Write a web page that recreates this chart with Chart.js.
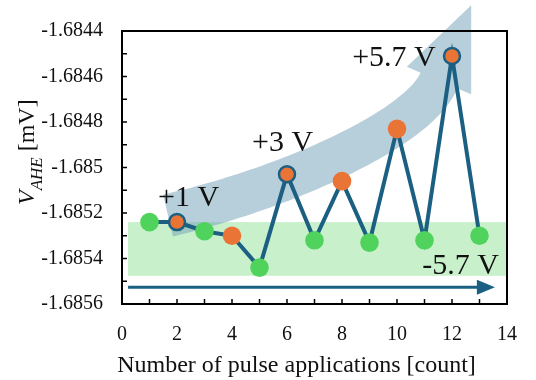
<!DOCTYPE html>
<html><head><meta charset="utf-8">
<script src="https://cdn.jsdelivr.net/npm/chart.js@4/dist/chart.umd.min.js"></script>
<style>html,body{margin:0;padding:0;background:#fff;}</style>
</head><body>
<canvas id="c" width="536" height="380"></canvas>
<script>
// ---- data ----
const pulseCounts = [1, 2, 3, 4, 5, 6, 7, 8, 9, 10, 11, 12, 13];
const vAHE = [-1.68524, -1.68524, -1.68528, -1.68530, -1.68544, -1.68503, -1.68532,
              -1.68506, -1.68533, -1.68483, -1.68532, -1.68451, -1.68530];
const positivePulse = [false, true, false, true, false, true, false, true, false, true, false, true, false];
const labelledPulses = [2, 6, 12];
const pulseLabels = ['+1 V', '+3 V', '+5.7 V', '-5.7 V'];
const pulseLabelX = [2.42, 5.84, 9.89, 12.31];
const pulseLabelY = [-1.685168, -1.684928, -1.684556, -1.685467];
const xTitle = 'Number of pulse applications [count]';
const yMin = -1.6856, yMax = -1.6844, yStep = 0.0001;
const xMin = 0, xMax = 14, xStep = 1;
// band (negative-pulse level) and arrows, in data units
const bandX = [0.22, 14];
const bandY = [-1.685476, -1.68524];
const trendCurveX = [1.673, 5.927, 10.764, 11.527];
const trendCurveY = [-1.685211, -1.685091, -1.684834, -1.684618];
const negArrowX = [0.22, 13.56];
const negArrowY = -1.685526;

const BLUE = '#1b5f82', ORANGE = '#ea7436', GREEN = '#4fd35d';
const SERIF = '"Liberation Serif", "Times New Roman", serif';

const deco = {
  id: 'deco',
  beforeDatasetsDraw(chart) {
    const {ctx, chartArea: a, scales: {x, y}} = chart;
    const X = v => x.getPixelForValue(v), Y = v => y.getPixelForValue(v);
    ctx.save();
    // green band
    ctx.fillStyle = '#c8f0cb';
    ctx.fillRect(X(bandX[0]), Y(bandY[1]), X(bandX[1]) - X(bandX[0]), Y(bandY[0]) - Y(bandY[1]));
    // curved trend arrow
    const P = trendCurveX.map((v, i) => [X(v), Y(trendCurveY[i])]);
    const N = 60, up = [], lo = [];
    let endDir = null;
    for (let i = 0; i <= N; i++) {
      const t = i / N, s = 1 - t;
      const px = s*s*s*P[0][0] + 3*s*s*t*P[1][0] + 3*s*t*t*P[2][0] + t*t*t*P[3][0];
      const py = s*s*s*P[0][1] + 3*s*s*t*P[1][1] + 3*s*t*t*P[2][1] + t*t*t*P[3][1];
      let dx = 3*s*s*(P[1][0]-P[0][0]) + 6*s*t*(P[2][0]-P[1][0]) + 3*t*t*(P[3][0]-P[2][0]);
      let dy = 3*s*s*(P[1][1]-P[0][1]) + 6*s*t*(P[2][1]-P[1][1]) + 3*t*t*(P[3][1]-P[2][1]);
      const L = Math.hypot(dx, dy); dx /= L; dy /= L;
      const w = 21.5 - 1.5 * t;
      up.push([px + w*dy, py - w*dx]);
      lo.push([px - w*dy, py + w*dx]);
      if (i === N) endDir = [dx, dy];
    }
    const E = P[3], hw = 35, hl = 82;
    const nx = endDir[1], ny = -endDir[0];
    ctx.beginPath();
    ctx.moveTo(up[0][0], up[0][1]);
    up.forEach(p => ctx.lineTo(p[0], p[1]));
    ctx.lineTo(E[0] + hw*nx, E[1] + hw*ny);
    ctx.lineTo(E[0] + hl*endDir[0], E[1] + hl*endDir[1]);
    ctx.lineTo(E[0] - hw*nx, E[1] - hw*ny);
    for (let i = lo.length - 1; i >= 0; i--) ctx.lineTo(lo[i][0], lo[i][1]);
    ctx.closePath();
    ctx.fillStyle = 'rgba(112,160,184,0.5)';
    ctx.fill();
    // bottom straight arrow
    const ay = Y(negArrowY), ax0 = X(negArrowX[0]), ax1 = X(negArrowX[1]);
    ctx.strokeStyle = BLUE; ctx.fillStyle = BLUE; ctx.lineWidth = 3;
    ctx.beginPath(); ctx.moveTo(ax0, ay); ctx.lineTo(ax1 - 14, ay); ctx.stroke();
    ctx.beginPath(); ctx.moveTo(ax1, ay); ctx.lineTo(ax1 - 18, ay - 7.5); ctx.lineTo(ax1 - 18, ay + 7.5); ctx.closePath(); ctx.fill();
    // frame
    ctx.strokeStyle = '#000'; ctx.lineWidth = 2;
    ctx.strokeRect(a.left, a.top, a.right - a.left, a.bottom - a.top);
    // inner ticks
    ctx.lineWidth = 1.5;
    ctx.beginPath();
    y.ticks.forEach(t => {
      const py = Y(t.value);
      if (py > a.top + 2 && py < a.bottom - 2) { ctx.moveTo(a.left, py); ctx.lineTo(a.left + 5, py); }
    });
    x.ticks.forEach(t => {
      const px = X(t.value);
      if (px > a.left + 2 && px < a.right - 2) { ctx.moveTo(px, a.bottom); ctx.lineTo(px, a.bottom - 5); }
    });
    ctx.stroke();
    ctx.restore();
  },
  afterDatasetsDraw(chart) {
    const {ctx, chartArea: a, scales: {x, y}} = chart;
    ctx.save();
    ctx.fillStyle = '#111';
    ctx.textAlign = 'center'; ctx.textBaseline = 'alphabetic';
    ctx.font = '30px ' + SERIF;
    pulseLabels.forEach((t, i) => ctx.fillText(t, x.getPixelForValue(pulseLabelX[i]), y.getPixelForValue(pulseLabelY[i])));
    // x title
    ctx.font = '24px ' + SERIF;
    ctx.fillText(xTitle, a.left + 174.5, 372);
    // y title
    ctx.translate(34, 205);
    ctx.rotate(-Math.PI / 2);
    ctx.textAlign = 'left';
    ctx.font = 'italic 24px ' + SERIF;
    ctx.fillText('V', 0, 0);
    let off = ctx.measureText('V').width;
    ctx.font = 'italic 17px ' + SERIF;
    ctx.fillText('AHE', off, 8);
    off += ctx.measureText('AHE').width;
    ctx.font = '24px ' + SERIF;
    ctx.fillText(' [mV]', off, 0);
    ctx.restore();
  }
};

new Chart(document.getElementById('c'), {
  type: 'line',
  data: {
    datasets: [{
      data: pulseCounts.map((c, i) => ({x: c, y: vAHE[i]})),
      borderColor: BLUE,
      borderWidth: 4,
      tension: 0,
      pointBackgroundColor: ctx => positivePulse[ctx.dataIndex] ? ORANGE : GREEN,
      pointBorderColor: ctx => labelledPulses.includes(pulseCounts[ctx.dataIndex]) ? BLUE : 'rgba(0,0,0,0)',
      pointBorderWidth: ctx => labelledPulses.includes(pulseCounts[ctx.dataIndex]) ? 2.5 : 0,
      pointRadius: ctx => labelledPulses.includes(pulseCounts[ctx.dataIndex]) ? 8 : 9.3,
      clip: false
    }]
  },
  options: {
    responsive: false,
    animation: false,
    layout: {padding: {top: 23, right: 29, left: 0, bottom: 0}},
    plugins: {legend: {display: false}, tooltip: {enabled: false}},
    scales: {
      x: {
        type: 'linear', min: xMin, max: xMax,
        grid: {display: false, drawTicks: false},
        border: {display: false},
        ticks: {
          stepSize: xStep, autoSkip: false, maxRotation: 0, padding: 19, color: '#111',
          font: {family: SERIF, size: 20},
          callback: v => (Math.round(v) % 2 === 0 ? String(Math.round(v)) : '')
        },
        afterFit(s) { s.height = 76; }
      },
      y: {
        type: 'linear', min: yMin, max: yMax,
        grid: {display: false, drawTicks: false},
        border: {display: false},
        ticks: {
          stepSize: yStep, autoSkip: false, padding: 19, color: '#111',
          font: {family: SERIF, size: 20},
          callback: v => (Math.round(v * 1e4) % 2 === 0 ? String(Number(v.toFixed(4))) : '')
        },
        afterFit(s) { s.width = 122; }
      }
    }
  },
  plugins: [deco]
});
</script>
</body></html>
